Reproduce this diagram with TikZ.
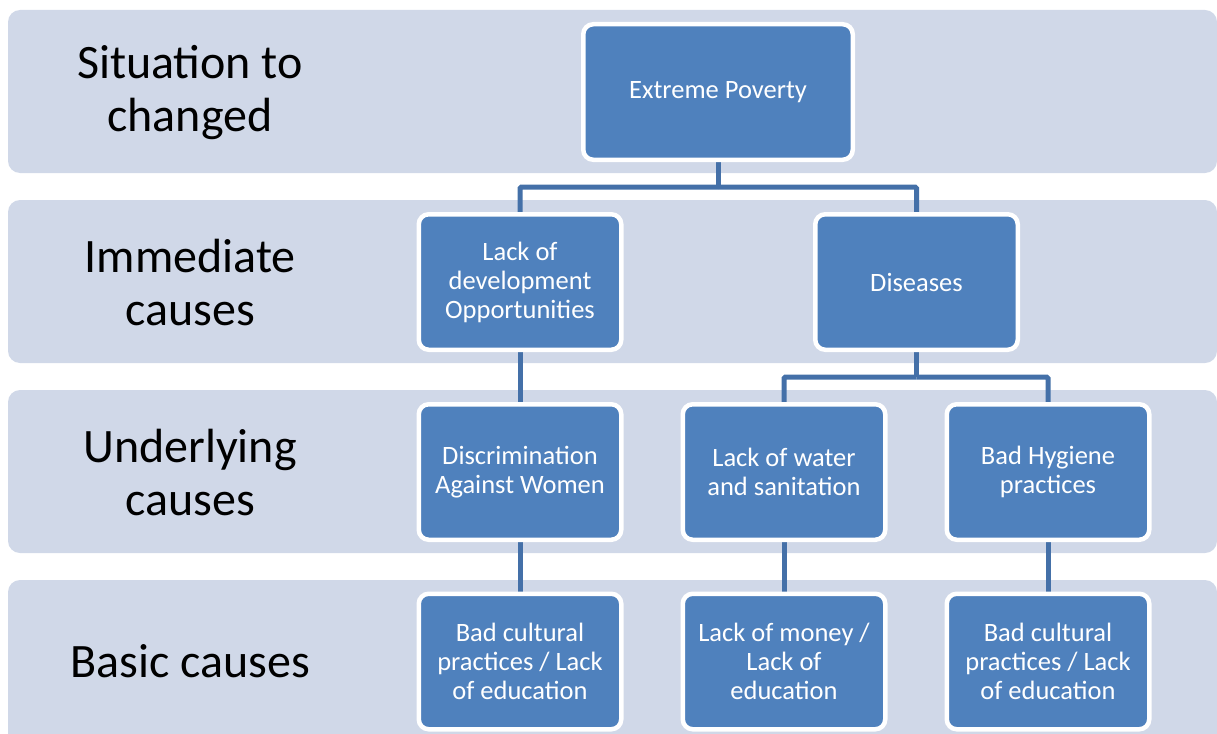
\documentclass[tikz,border=0pt]{standalone}
\usepackage{fontspec}
\setmainfont{Carlito}
\pgfdeclarelayer{bands}
\pgfdeclarelayer{background}
\pgfsetlayers{bands,background,main}
\definecolor{bandfill}{HTML}{D0D8E8}
\definecolor{boxfill}{HTML}{4F81BD}
\definecolor{connc}{HTML}{4470A8}
\tikzset{
  band/.style={fill=bandfill, rounded corners=12pt, draw=none},
  lbl/.style={align=center, text=black, font=\fontsize{48}{53}\selectfont},
  cbox/.style={draw=white, line width=4.5pt, fill=boxfill, rounded corners=10pt,
    text=white, align=center, minimum width=202.5pt, minimum height=135.5pt,
    inner sep=2pt, font=\fontsize{26.5}{29}\selectfont},
  conn/.style={draw=connc, line width=5pt, rounded corners=1.5pt}
}
\begin{document}
\begin{tikzpicture}[x=1pt,y=-1pt]
\useasboundingbox (0,0) rectangle (1217,733);
\clip (0,0) rectangle (1217,733);
% bands
\begin{pgfonlayer}{bands}
\path[band] (8,10) rectangle (1217,173);
\path[band] (8,200) rectangle (1217,363);
\path[band] (8,390) rectangle (1217,553);
\path[band] (8,580) rectangle (1217,760);
\end{pgfonlayer}
% row labels
\node[lbl] (l1) at (190,93) {Situation to\\changed};
\node[lbl] (l2) at (190,283) {Immediate\\causes};
\node[lbl] (l3) at (190,473) {Underlying\\causes};
\node[lbl] (l4) at (190,661) {Basic causes};
% boxes
\node[cbox, minimum width=269.5pt] (ep) at (718,92) {Extreme Poverty};
\node[cbox] (ldo) at (520,282) {Lack of\\development\\Opportunities};
\node[cbox] (dis) at (916.5,282) {Diseases};
\node[cbox] (daw) at (520,472) {Discrimination\\Against Women};
\node[cbox] (lws) at (784,472) {Lack of water\\and sanitation};
\node[cbox] (bhp) at (1048,472) {Bad Hygiene\\practices};
\node[cbox] (bc1) at (520,661.5) {Bad cultural\\practices / Lack\\of education};
\node[cbox] (lmo) at (784,661.5) {Lack of money /\\Lack of\\education};
\node[cbox] (bc2) at (1048,661.5) {Bad cultural\\practices / Lack\\of education};
% connectors
\path (ep.south) ++(0,25) coordinate (j1);
\path (dis.south) ++(0,25) coordinate (j2);
\begin{pgfonlayer}{background}
\draw[conn] (ep.south) -- (j1);
\draw[conn] (j1) -| (ldo.north);
\draw[conn] (j1) -| (dis.north);
\draw[conn] (ldo.south) -- (daw.north);
\draw[conn] (dis.south) -- (j2);
\draw[conn] (j2) -| (lws.north);
\draw[conn] (j2) -| (bhp.north);
\draw[conn] (daw.south) -- (bc1.north);
\draw[conn] (lws.south) -- (lmo.north);
\draw[conn] (bhp.south) -- (bc2.north);
\end{pgfonlayer}
\end{tikzpicture}
\end{document}
